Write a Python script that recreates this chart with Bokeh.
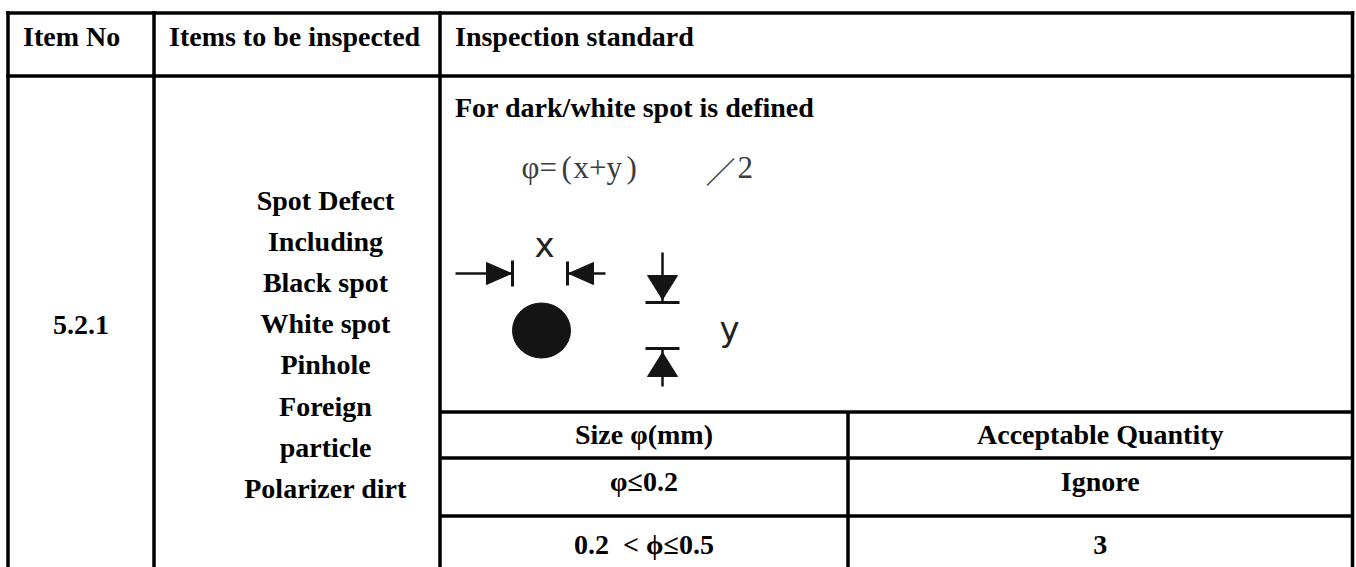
from bokeh.plotting import figure
from bokeh.models import Range1d
from bokeh.core.properties import value
from bokeh.embed import file_html
from bokeh.resources import INLINE

# ---------------- content ----------------
header_labels = ["Item No", "Items to be inspected", "Inspection standard"]
item_no = ["5.2.1"]
item_lines = ["Spot Defect", "Including", "Black spot", "White spot",
              "Pinhole", "Foreign", "particle", "Polarizer dirt"]
standard_title = ["For dark/white spot is defined"]
formula_parts = ["φ=", "(", "x+y", ")", "2"]
formula_slash = ["／"]
dim_labels = ["x", "y"]
sub_header = ["Size φ(mm)", "Acceptable Quantity"]
size_ranges = ["φ≤0.2", "0.2\u00a0\u00a0<\u00a0ϕ≤0.5"]
quantities = ["Ignore", "3"]

# ---------------- layout (page pixels) ----------------
W, H = 1356, 567
col_edges = [7.5, 153.5, 439.5, 847.5, 1352.0]
row_top, row_header, table_bottom = 12.5, 75.5, 575.0
sub_rows = [411.5, 457.5, 515.5]
LW = 3.5
SERIF = value("Liberation Serif")
FS = "28px"
SHIFT = -10   # text baseline correction

p = figure(width=W, height=H, x_range=Range1d(0, W), y_range=Range1d(H, 0),
           output_backend="svg", toolbar_location=None, min_border=0,
           x_axis_type=None, y_axis_type=None)
p.grid.visible = False
p.outline_line_color = None
p.background_fill_color = "white"
p.border_fill_color = "white"

# ---------------- grid lines ----------------
x0, y0, x1, y1 = [], [], [], []
for yy in (row_top, row_header):
    x0.append(col_edges[0] - LW / 2); x1.append(col_edges[-1] + LW / 2); y0.append(yy); y1.append(yy)
for yy in sub_rows:
    x0.append(col_edges[2]); x1.append(col_edges[-1]); y0.append(yy); y1.append(yy)
for i, xx in enumerate(col_edges):
    x0.append(xx); x1.append(xx)
    y0.append(sub_rows[0] if i == 3 else row_top - LW / 2); y1.append(table_bottom)
p.segment(x0=x0, y0=y0, x1=x1, y1=y1, line_color="black", line_width=LW)

def txt(xs, ys, texts, align="left", size=FS, font=SERIF, style="bold", color="black"):
    p.text(x=xs, y=[v + SHIFT for v in ys], text=texts, text_font=font, text_font_size=size,
           text_font_style=style, text_color=color, text_align=align,
           text_baseline="alphabetic")

# header
pad = 15
txt([e + pad for e in col_edges[:3]], [46] * 3, header_labels)
# item no
txt([(col_edges[0] + col_edges[1]) / 2], [334], item_no, align="center")
# items list
item_cx, item_y0, item_step = 325, 209.5, 41.2
txt([item_cx] * len(item_lines), [item_y0 + i * item_step for i in range(len(item_lines))],
    item_lines, align="center")
# standard title
txt([col_edges[2] + pad], [117], standard_title)

# formula (greyish image text)
txt([521, 561, 573, 626, 737], [177] * 5, formula_parts, size="31px", style="normal",
    color="#3c3c3c")
txt([705], [179], formula_slash, size="30px", font=value("Noto Sans CJK SC"), style="normal",
    color="#3c3c3c")

# ---------------- spot diagram ----------------
ink = "#141414"
ay = 273        # horizontal dimension axis
lt, rt = 512, 567   # tick positions
vx = 662        # vertical dimension axis
tb, bb = 302, 348   # bar positions
head_len, head_half = 25, 11

p.segment(x0=[455, rt, vx, vx, lt, rt, vx - 17, vx - 17],
          y0=[ay, ay, 252, bb, ay - 13, ay - 12, tb, bb],
          x1=[lt, 605, vx, vx, lt, rt, vx + 17, vx + 17],
          y1=[ay, ay, tb, 386, ay + 13, ay + 12, tb, bb],
          line_color=ink, line_width=[2.5, 2.5, 2.5, 2.5, 3, 3, 3, 3])
xs = [[lt - 1, lt - 1 - head_len, lt - 1 - head_len],
      [rt + 1, rt + 1 + head_len, rt + 1 + head_len],
      [vx, vx - 15, vx + 15],
      [vx, vx - 15, vx + 15]]
ys = [[ay, ay - head_half, ay + head_half],
      [ay, ay - head_half, ay + head_half],
      [tb - 3, tb - 3 - 24, tb - 3 - 24],
      [bb + 4, bb + 4 + 24, bb + 4 + 24]]
p.patches(xs=xs, ys=ys, fill_color=ink, line_color=ink, line_width=1)
p.ellipse(x=[541], y=[330], width=[58], height=[55], fill_color=ink, line_color=ink)
txt([544, 729], [254, 338], dim_labels, align="center", size="34px",
    font=value("DejaVu Sans"), style="normal", color="#222222")

# ---------------- sub table ----------------
c1 = (col_edges[2] + col_edges[3]) / 2
c2 = (col_edges[3] + col_edges[4]) / 2
txt([c1, c2], [444, 444], sub_header, align="center")
txt([c1, c1], [491, 554], size_ranges, align="center")
txt([c2, c2], [491, 554], quantities, align="center")

open("out.html", "w").write(file_html(p, INLINE))
